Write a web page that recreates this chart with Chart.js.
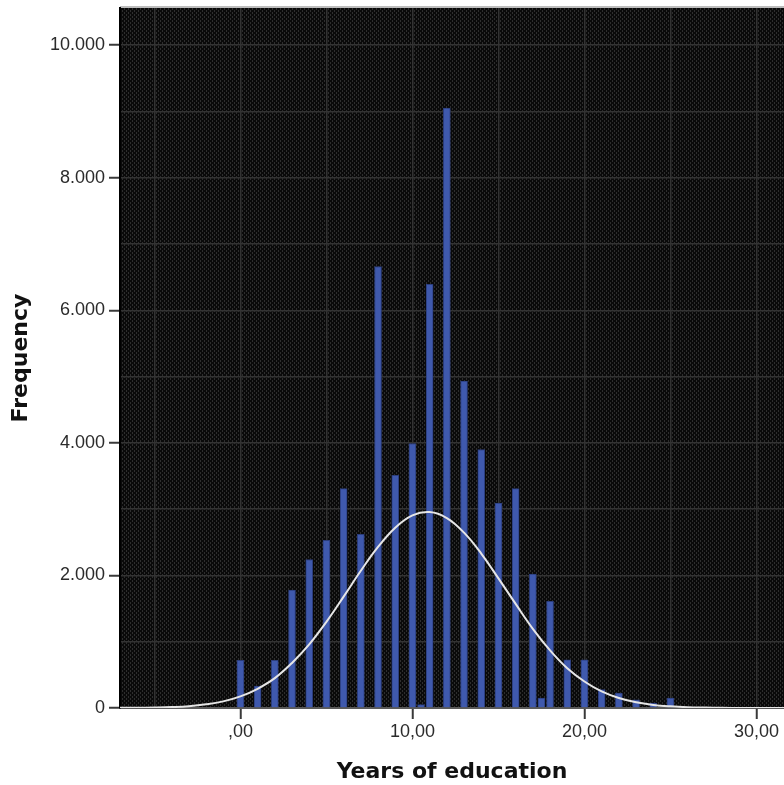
<!DOCTYPE html>
<html>
<head>
<meta charset="utf-8">
<script src="https://cdn.jsdelivr.net/npm/chart.js@4"></script>
<style>
  html, body { margin: 0; padding: 0; background: #fff; }
</style>
</head>
<body>
<canvas id="histChart" width="784" height="785"></canvas>
<script>
// Histogram of years of education, with the fitted normal curve on top.

const years = [0, 1, 2, 3, 4, 5, 6, 7, 8, 9, 10, 10.5, 11, 12, 13, 14, 15, 16, 17, 17.5, 18, 19, 20, 21, 22, 23, 24, 25];
const counts = [720, 330, 720, 1780, 2240, 2530, 3310, 2620, 6660, 3510, 3990, 50, 6390, 9050, 4930, 3900, 3090, 3310, 2020, 150, 1610, 727, 727, 276, 226, 125, 75, 150];

// normal curve, read at whole years
const curveX = [-7, -6, -5, -4, -3, -2, -1, 0, 1, 2, 3, 4, 5, 6, 7, 8, 9, 10, 11, 12, 13, 14, 15, 16, 17, 18, 19, 20, 21, 22, 23, 24, 25, 26, 27, 28, 29, 30, 31, 32];
const curveY = [2, 4, 8, 15, 28, 55, 100, 175, 290, 450, 680, 960, 1300, 1680, 2070, 2430, 2720, 2905, 2955, 2865, 2645, 2330, 1955, 1570, 1195, 870, 600, 400, 250, 150, 86, 47, 25, 12, 6, 3, 1, 0, 0, 0];

// grid lines, and the labelled ticks among them
const xGrid = [-5, 0, 5, 10, 15, 20, 25, 30];
const xTicks = [0, 10, 20, 30];
const xTickLabels = [',00', '10,00', '20,00', '30,00'];
const yGrid = [0, 1000, 2000, 3000, 4000, 5000, 6000, 7000, 8000, 9000, 10000];
const yTicks = [0, 2000, 4000, 6000, 8000, 10000];
const yTickLabels = ['0', '2.000', '4.000', '6.000', '8.000', '10.000'];

// dotted dark fill for the plot area
function makePattern(ctx) {
    const tile = document.createElement('canvas');
    tile.width = 4;
    tile.height = 4;
    const t = tile.getContext('2d');
    t.fillStyle = '#0a0a0a';
    t.fillRect(0, 0, 4, 4);
    t.fillStyle = '#2e2e2e';
    t.fillRect(0, 0, 1, 2);
    t.fillRect(2, 2, 1, 2);
    return ctx.createPattern(tile, 'repeat');
}

const plotBackground = {
    id: 'plotBackground',
    beforeDraw(chart) {
        const { ctx, chartArea: a } = chart;
        ctx.save();
        ctx.fillStyle = makePattern(ctx);
        ctx.fillRect(a.left, a.top, a.right - a.left, a.bottom - a.top);
        ctx.strokeStyle = '#bdbdbd';
        ctx.lineWidth = 2;
        ctx.beginPath();
        ctx.moveTo(a.left, a.top - 1);
        ctx.lineTo(a.right, a.top - 1);
        ctx.stroke();
        ctx.restore();
    }
};

const tickFont = { family: 'Liberation Sans', size: 18 };
const titleFont = { family: 'DejaVu Sans', size: 22, weight: 'bold' };

const histChart = new Chart(document.getElementById('histChart'), {
    type: 'bar',
    data: {
        datasets: [{
            type: 'line',
            data: curveX.map((x, i) => ({ x: x, y: curveY[i] })),
            borderColor: '#e6e6e6',
            borderWidth: 2,
            pointRadius: 0,
            tension: 0.4,
            fill: false,
            order: 0
        }, {
            type: 'bar',
            data: years.map((x, i) => ({ x: x, y: counts[i] })),
            backgroundColor: '#3f59ad',
            borderColor: '#2b3d7c',
            borderWidth: 1,
            barThickness: 7,
            order: 1
        }]
    },
    options: {
        responsive: false,
        animation: false,
        layout: { padding: { top: 8, right: 0, bottom: 0, left: 0 } },
        plugins: {
            legend: { display: false },
            tooltip: { enabled: false }
        },
        scales: {
            x: {
                type: 'linear',
                min: -7,
                max: 31.6,
                offset: false,
                afterBuildTicks: s => { s.ticks = xGrid.map(v => ({ value: v })); },
                afterFit: s => { s.height = 77; },
                ticks: {
                    autoSkip: false,
                    maxRotation: 0,
                    padding: 2,
                    color: '#2b2b2b',
                    font: tickFont,
                    callback: v => {
                        const i = xTicks.indexOf(v);
                        return i >= 0 ? xTickLabels[i] : '';
                    }
                },
                grid: {
                    offset: false,
                    color: '#333333',
                    lineWidth: 1.5,
                    tickLength: 11,
                    tickWidth: 2,
                    tickColor: c => (c.tick && xTicks.includes(c.tick.value)) ? '#3a3a3a' : 'rgba(0,0,0,0)'
                },
                border: { display: true, color: '#5a5a5a', width: 2 },
                title: {
                    display: true,
                    text: 'Years of education',
                    color: '#111',
                    font: titleFont,
                    padding: { top: 0, bottom: 0 }
                }
            },
            y: {
                type: 'linear',
                min: 0,
                max: 10560,
                afterBuildTicks: s => { s.ticks = yGrid.map(v => ({ value: v })); },
                afterFit: s => {
                    s.width = 120;
                    s.paddingTop = 0;
                },
                ticks: {
                    autoSkip: false,
                    padding: 4,
                    color: '#2b2b2b',
                    font: tickFont,
                    callback: v => {
                        const i = yTicks.indexOf(v);
                        return i >= 0 ? yTickLabels[i] : '';
                    }
                },
                grid: {
                    color: '#333333',
                    lineWidth: 1.5,
                    tickLength: 11,
                    tickWidth: 2,
                    tickColor: c => (c.tick && yTicks.includes(c.tick.value)) ? '#3a3a3a' : 'rgba(0,0,0,0)'
                },
                border: { display: true, color: '#000', width: 2 },
                title: {
                    display: true,
                    text: 'Frequency',
                    color: '#111',
                    font: titleFont,
                    padding: { top: 8, bottom: 0 }
                }
            }
        }
    },
    plugins: [plotBackground]
});
</script>
</body>
</html>
